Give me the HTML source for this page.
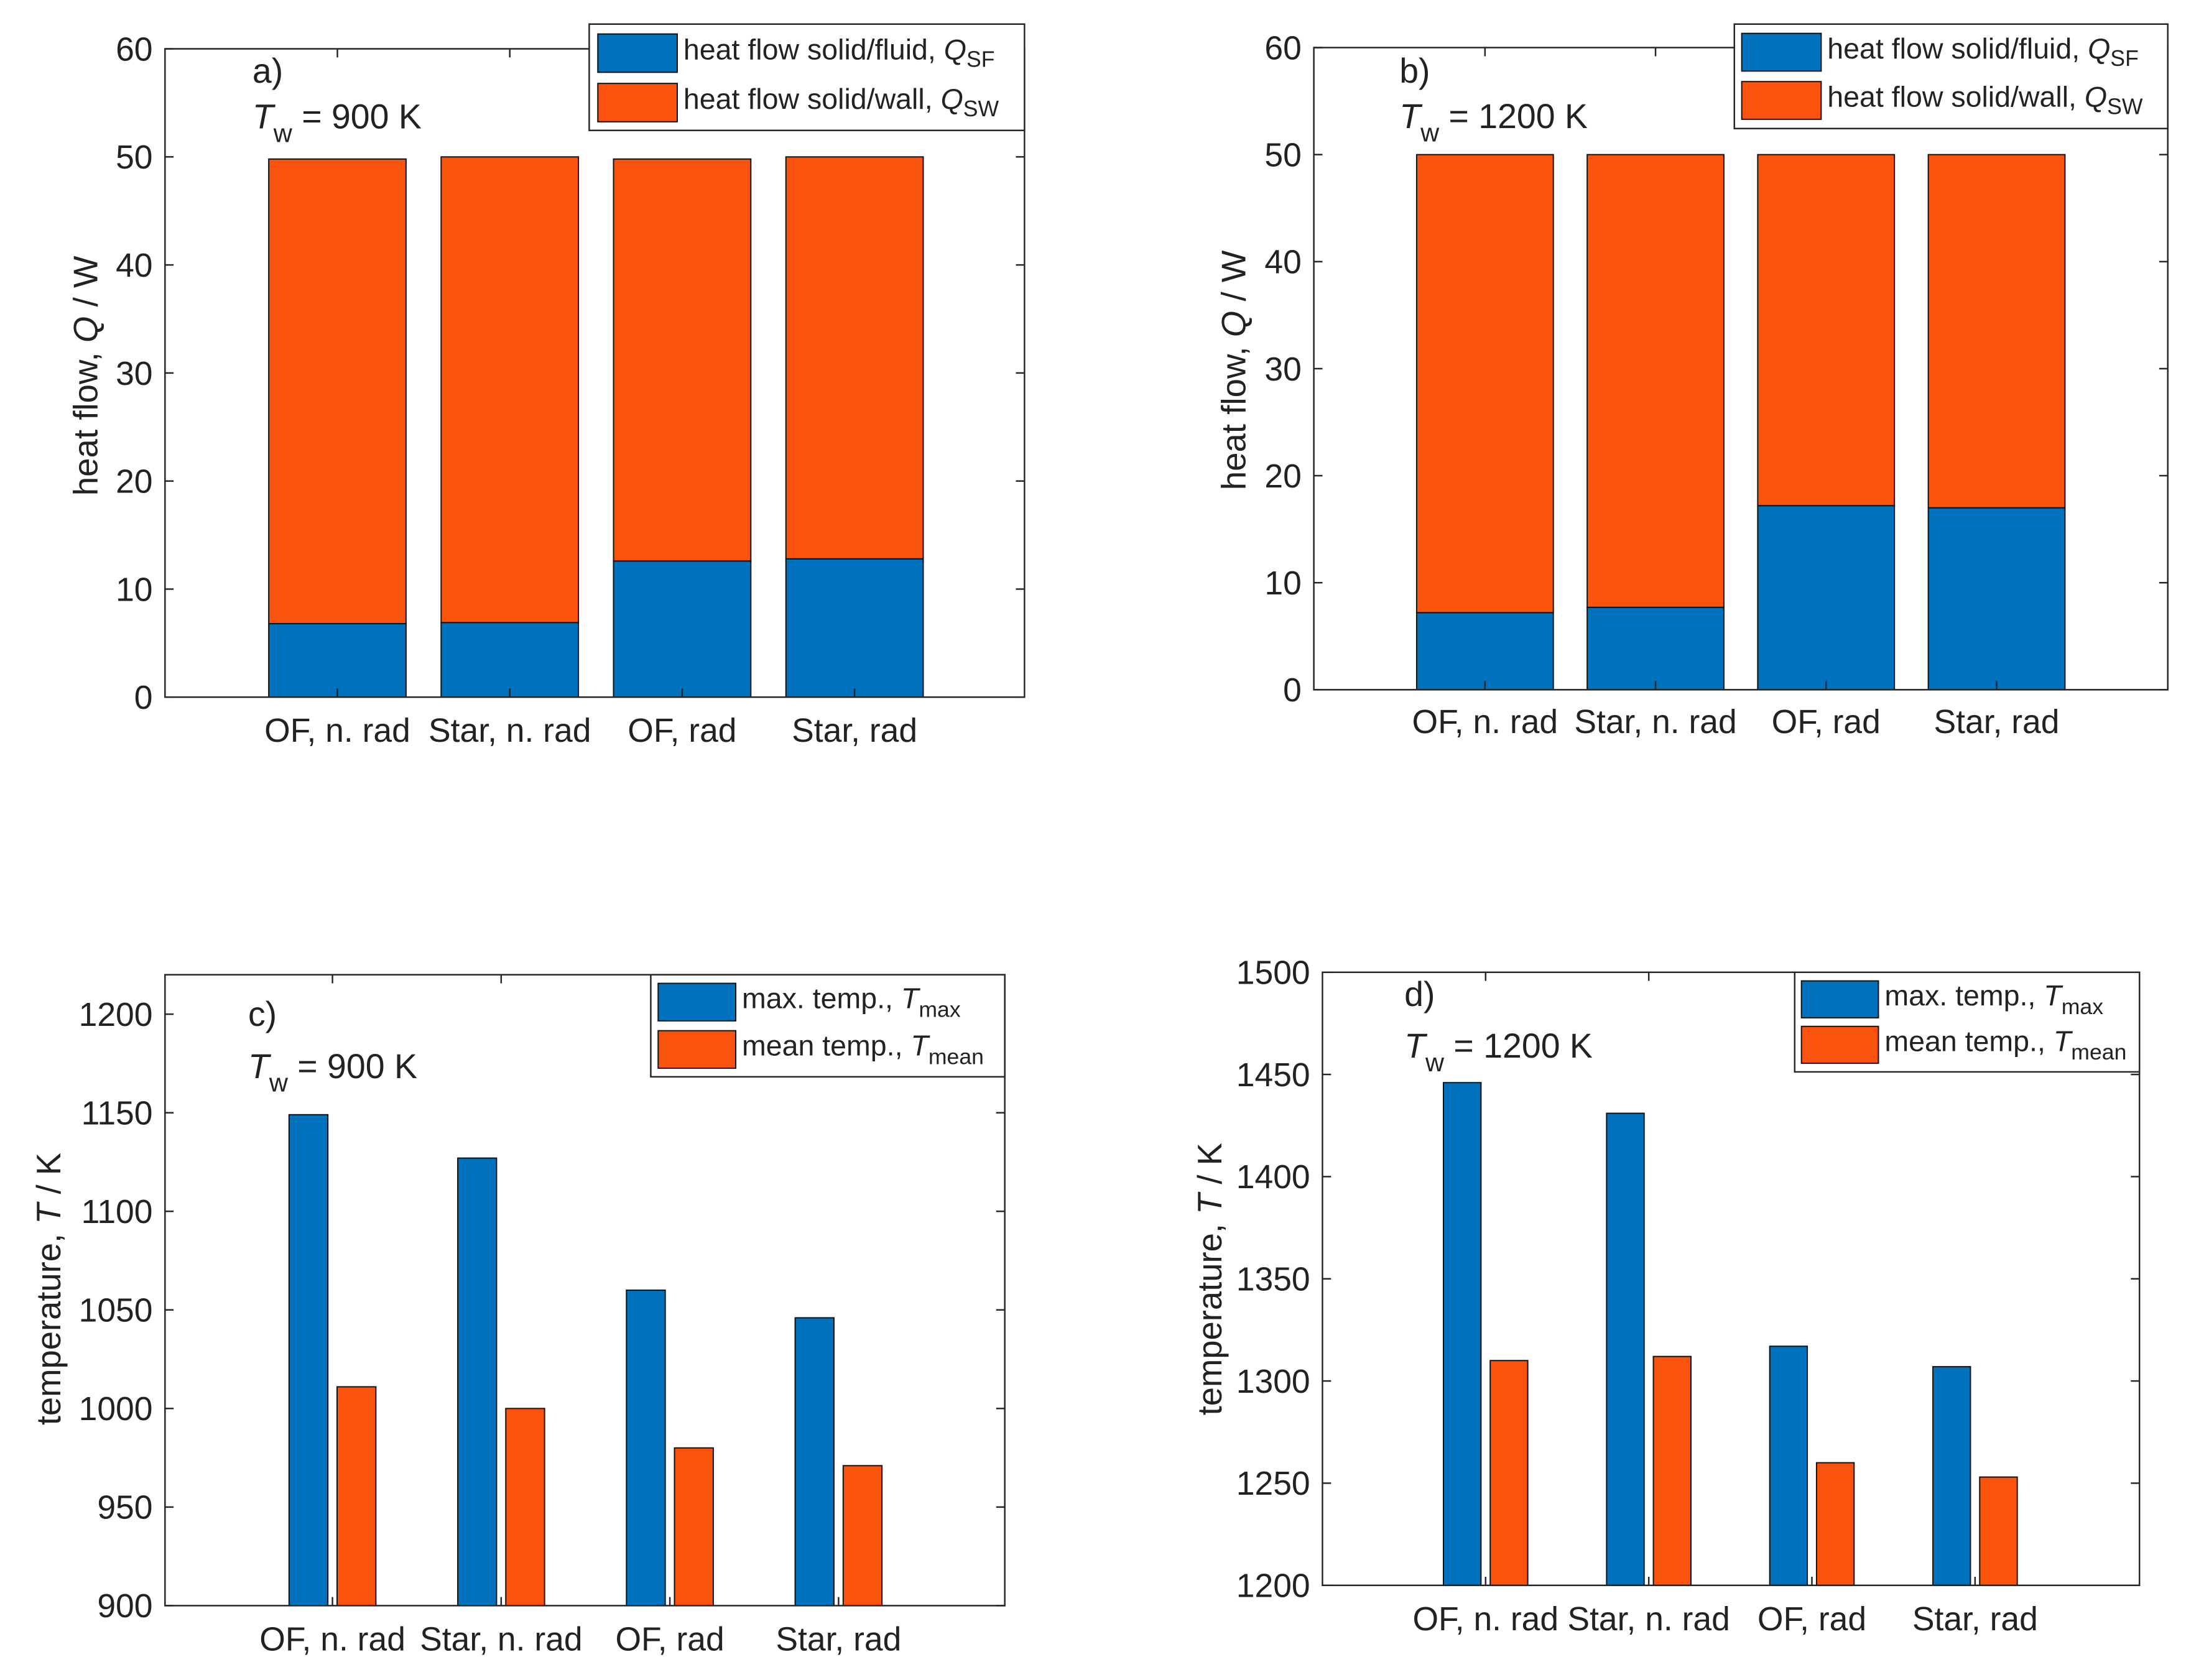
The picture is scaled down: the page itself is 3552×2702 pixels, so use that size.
<!DOCTYPE html>
<html><head><meta charset="utf-8"><style>
html,body{margin:0;padding:0;background:#fff}
svg{display:block}
text{font-family:"Liberation Sans",Arial,sans-serif;fill:#222}
</style></head><body>
<svg id="fig" width="3552" height="2702" viewBox="0 0 3552 2702" xmlns="http://www.w3.org/2000/svg"></svg>
<script>
const categories = ["OF, n. rad", "Star, n. rad", "OF, rad", "Star, rad"];
const qsfA = [6.8, 6.9, 12.6, 12.8];
const qtotA = [49.8, 50.0, 49.8, 50.0];
const qsfB = [7.2, 7.7, 17.2, 17.0];
const qtotB = [50.0, 50.0, 50.0, 50.0];
const tmaxC = [1149, 1127, 1060, 1046];
const tmeanC = [1011, 1000, 980, 971];
const tmaxD = [1446, 1431, 1317, 1307];
const tmeanD = [1310, 1312, 1260, 1253];
const ticksQ = [0, 10, 20, 30, 40, 50, 60];
const ticksC = [900, 950, 1000, 1050, 1100, 1150, 1200];
const ticksD = [1200, 1250, 1300, 1350, 1400, 1450, 1500];

const NS = "http://www.w3.org/2000/svg";
const svg = document.getElementById("fig");
const BLUE = "#0072BD", ORANGE = "#F9530E";
function mk(tag, attrs, parent) {
  const e = document.createElementNS(NS, tag);
  for (const k in attrs) e.setAttribute(k, attrs[k]);
  (parent || svg).appendChild(e);
  return e;
}

function panel(p) {
  const g = mk("g", {transform: `translate(${p.ox},${p.oy}) scale(${p.sx},${p.sy}) translate(${-p.ox},${-p.oy})`});
  
  
  const yS = v => p.B - (v - p.ymin) / (p.ymax - p.ymin) * (p.B - p.T);
  const xS = i => p.x0 + i * p.dx;
  const bg = mk("rect", {x: p.L, y: p.T, width: p.R - p.L, height: p.B - p.T, fill: "#fff"}, g);
  
  
  if (p.stacked) {
    for (let i = 0; i < categories.length; i++) {
      const cx = xS(i), w = p.bw;
      const r1 = mk("rect", {x: cx - w/2, y: yS(p.s1[i]), width: w, height: yS(0) - yS(p.s1[i]), fill: BLUE, stroke: "#111", "stroke-width": 2}, g);
      
      
      const r2 = mk("rect", {x: cx - w/2, y: yS(p.s2[i]), width: w, height: yS(p.s1[i]) - yS(p.s2[i]), fill: ORANGE, stroke: "#111", "stroke-width": 2}, g);
      
      
    }
  } else {
    for (let i = 0; i < categories.length; i++) {
      const cx = xS(i), w = p.bw;
      const r1 = mk("rect", {x: cx - p.off - w/2, y: yS(p.s1[i]), width: w, height: yS(p.ymin) - yS(p.s1[i]), fill: BLUE, stroke: "#111", "stroke-width": 2}, g);
      
      
      const r2 = mk("rect", {x: cx + p.off - w/2, y: yS(p.s2[i]), width: w, height: yS(p.ymin) - yS(p.s2[i]), fill: ORANGE, stroke: "#111", "stroke-width": 2}, g);
      
      
    }
  }
  const box = mk("rect", {x: p.L, y: p.T, width: p.R - p.L, height: p.B - p.T, fill: "none", stroke: "#262626", "stroke-width": 2.5}, g);
  
  
  p.ticks.forEach(t => {
    const y = yS(t);
    mk("line", {x1: p.L, x2: p.L + 14, y1: y, y2: y, stroke: "#262626", "stroke-width": 2.5}, g);
    mk("line", {x1: p.R, x2: p.R - 14, y1: y, y2: y, stroke: "#262626", "stroke-width": 2.5}, g);
    const tl = mk("text", {x: p.L - 20, y: y + 19, "font-size": 54, "text-anchor": "end"}, g);
    tl.textContent = t;
    
    
  });
  categories.forEach((c, i) => {
    const x = xS(i);
    mk("line", {x1: x, x2: x, y1: p.B, y2: p.B - 14, stroke: "#262626", "stroke-width": 2.5}, g);
    mk("line", {x1: x, x2: x, y1: p.T, y2: p.T + 14, stroke: "#262626", "stroke-width": 2.5}, g);
    const tl = mk("text", {x: x, y: p.xlabY, "font-size": 54, "text-anchor": "middle"}, g);
    tl.textContent = c;
    
    
  });
  const yt = mk("text", {x: 0, y: 0, "font-size": 55, "text-anchor": "middle", transform: `translate(${p.ytX},${p.ytY}) rotate(-90)`}, g);
  yt.innerHTML = p.ytitle;
  
  
  const a1 = mk("text", {x: p.annX, y: p.ann1Y, "font-size": 56}, g);
  a1.textContent = p.letter;
  
  
  const a2 = mk("text", {x: p.annX, y: p.ann2Y, "font-size": 56}, g);
  a2.innerHTML = '<tspan font-style="italic">T</tspan><tspan font-size="42" dy="22">w</tspan><tspan dy="-22"> = ' + p.tw + '</tspan>';
  
  
  const lg = mk("g", {}, g);
  
  
  const L = p.leg;
  mk("rect", {x: L.x, y: L.y, width: L.w, height: L.h, fill: "#fff", stroke: "#262626", "stroke-width": 2.5}, lg);
  [[BLUE, L.s1y, p.l1], [ORANGE, L.s2y, p.l2]].forEach((e, k) => {
    const sw = mk("rect", {x: L.sx, y: e[1], width: L.sw, height: L.sh, fill: e[0], stroke: "#111", "stroke-width": 2}, lg);
    
    
    const t = mk("text", {x: L.sx + L.sw + 10, y: e[1] + L.sh/2 + 10, "font-size": 47}, lg);
    t.innerHTML = e[2];
    
    
  });
}

const legQ1 = 'heat flow solid/fluid, <tspan font-style="italic">Q</tspan><tspan font-size="36" dy="12">SF</tspan>';
const legQ2 = 'heat flow solid/wall, <tspan font-style="italic">Q</tspan><tspan font-size="36" dy="12">SW</tspan>';
const legT1 = 'max. temp., <tspan font-style="italic">T</tspan><tspan font-size="36" dy="14">max</tspan>';
const legT2 = 'mean temp., <tspan font-style="italic">T</tspan><tspan font-size="36" dy="14">mean</tspan>';
const ytQ = 'heat flow,  <tspan font-style="italic">Q</tspan> / W';
const ytT = 'temperature,  <tspan font-style="italic">T</tspan> / K';

panel({id: "a", ox: 0, oy: 0, sx: 0.99, sy: 0.994, stacked: true, L: 268, R: 1664, T: 79, B: 1128, ymin: 0, ymax: 60, ticks: ticksQ,
  x0: 548, dx: 280, bw: 223, s1: qsfA, s2: qtotA, xlabY: 1200, ytitle: ytQ, ytX: 158, ytY: 608,
  letter: "a)", tw: "900 K", annX: 410, ann1Y: 134, ann2Y: 208, l1: legQ1, l2: legQ2,
  leg: {x: 957, y: 39, w: 707, h: 172, sx: 971, sw: 129, sh: 62, s1y: 55, s2y: 135}});
panel({id: "b", ox: 1776, oy: 0, sx: 0.99, sy: 0.994, stacked: true, L: 2116, R: 3503, T: 77, B: 1116, ymin: 0, ymax: 60, ticks: ticksQ,
  x0: 2394, dx: 277, bw: 222, s1: qsfB, s2: qtotB, xlabY: 1186, ytitle: ytQ, ytX: 2005, ytY: 599,
  letter: "b)", tw: "1200 K", annX: 2255, ann1Y: 134, ann2Y: 207, l1: legQ1, l2: legQ2,
  leg: {x: 2799, y: 39, w: 704, h: 169, sx: 2811, sw: 129, sh: 61, s1y: 54, s2y: 132}});
panel({id: "c", ox: 0, oy: 1450, sx: 0.99, sy: 0.989, stacked: false, L: 268, R: 1632, T: 1569, B: 2595, ymin: 900, ymax: 1220, ticks: ticksC,
  x0: 540, dx: 274, bw: 63, off: 39, s1: tmaxC, s2: tmeanC, xlabY: 2668, ytitle: ytT, ytX: 98, ytY: 2080,
  letter: "c)", tw: "900 K", annX: 403, ann1Y: 1652, ann2Y: 1737, l1: legT1, l2: legT2,
  leg: {x: 1057, y: 1569, w: 575, h: 166, sx: 1069, sw: 126, sh: 61, s1y: 1583, s2y: 1660}});
panel({id: "d", ox: 1776, oy: 1450, sx: 0.99, sy: 0.989, stacked: false, L: 2130, R: 3457, T: 1565, B: 2562, ymin: 1200, ymax: 1500, ticks: ticksD,
  x0: 2395, dx: 265, bw: 61, off: 38, s1: tmaxD, s2: tmeanD, xlabY: 2635, ytitle: ytT, ytX: 1966, ytY: 2064,
  letter: "d)", tw: "1200 K", annX: 2263, ann1Y: 1620, ann2Y: 1704, l1: legT1, l2: legT2,
  leg: {x: 2897, y: 1565, w: 560, h: 162, sx: 2908, sw: 125, sh: 60, s1y: 1579, s2y: 1653}});
</script>
</body></html>
